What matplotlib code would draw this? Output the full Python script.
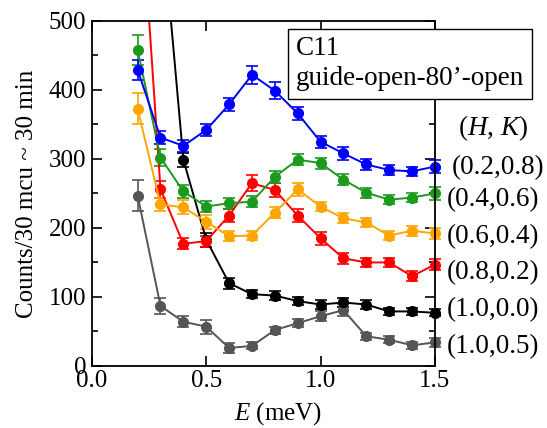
import matplotlib
matplotlib.use('Agg')
import matplotlib.pyplot as plt
from matplotlib.patches import Rectangle
from matplotlib.ticker import MultipleLocator

plt.rcParams['font.family'] = 'serif'
plt.rcParams['font.serif'] = ['Liberation Serif', 'DejaVu Serif']
plt.rcParams['mathtext.fontset'] = 'custom'
plt.rcParams['mathtext.it'] = 'Liberation Serif:italic'
plt.rcParams['mathtext.rm'] = 'Liberation Serif'

# ── Data ────────────────────────────────────────────────
energy = [0.2, 0.3, 0.4, 0.5, 0.6, 0.7, 0.8, 0.9, 1.0, 1.1, 1.2, 1.3, 1.4, 1.5]

hk_02_08 = [429, 331, 319, 342, 379, 422, 399, 366, 325, 308, 292, 284, 282, 289]
hk_02_08_err = [15, 9, 9, 9, 10, 13, 12, 10, 9, 9, 8, 7, 7, 9]

hk_04_06 = [458, 302, 253, 231, 236, 238, 274, 299, 294, 270, 251, 241, 244, 250]
hk_04_06_err = [22, 12, 9, 8, 8, 8, 9, 8, 8, 8, 7, 7, 7, 9]

hk_06_04 = [373, 234, 230, 209, 188, 189, 222, 256, 231, 214, 208, 189, 196, 192]
hk_06_04_err = [22, 10, 10, 10, 7, 7, 8, 9, 7, 7, 7, 7, 7, 8]

hk_08_02 = [750, 256, 177, 181, 218, 265, 255, 218, 185, 156, 150, 150, 130, 147]
hk_08_02_err = [20, 12, 8, 8, 10, 12, 10, 10, 9, 8, 7, 7, 7, 8]

hk_10_00 = [900, 670, 299, 183, 120, 104, 102, 94, 89, 92, 89, 79, 79, 77]
hk_10_00_err = [20, 15, 10, 10, 8, 6, 6, 6, 6, 6, 6, 5, 5, 5]

hk_10_05 = [247, 87, 64, 57, 26, 29, 52, 62, 72, 81, 43, 38, 30, 34]
hk_10_05_err = [22, 12, 8, 10, 7, 5, 5, 6, 7, 9, 5, 5, 5, 6]

series = [
    (hk_02_08, hk_02_08_err, '#0000ff', '(0.2,0.8)'),
    (hk_04_06, hk_04_06_err, '#1c9a1c', '(0.4,0.6)'),
    (hk_06_04, hk_06_04_err, '#ffa500', '(0.6,0.4)'),
    (hk_08_02, hk_08_02_err, '#ff0000', '(0.8,0.2)'),
    (hk_10_00, hk_10_00_err, '#000000', '(1.0,0.0)'),
    (hk_10_05, hk_10_05_err, '#555555', '(1.0,0.5)'),
]
label_y = [288, 241, 187, 135, 81, 28]
label_x = [1.574, 1.553, 1.553, 1.553, 1.553, 1.553]

# ── Plot ────────────────────────────────────────────────
fig = plt.figure(figsize=(5.47, 4.28), dpi=100)
ax = fig.add_axes([0.168, 0.145, 0.627, 0.806])

# let the last markers at E = 1.5 spill over the right spine
clip = Rectangle((0, 0), 1.05, 1, transform=ax.transAxes, visible=False)
ax.add_patch(clip)

for vals, errs, color, label in series[::-1]:
    cont = ax.errorbar(energy, vals, yerr=errs, color=color, marker='o',
                       markersize=7, linewidth=1.4, elinewidth=1.2,
                       capsize=4.5, capthick=1.2)
    for art in [cont.lines[0]] + list(cont.lines[1]) + list(cont.lines[2]):
        art.set_clip_path(clip)

for (vals, errs, color, label), lx, ly in zip(series, label_x, label_y):
    ax.text(lx, ly, label, fontsize=19.5, va='center', ha='left',
            clip_on=False)
ax.text(1.60, 345, r'$(H,\,K)$', fontsize=19.5, va='center', ha='left')

ax.text(0.595, 0.955, 'C11\nguide-open-80\u2019-open', transform=ax.transAxes,
        fontsize=19.5, va='top', ha='left', linespacing=1.25,
        bbox=dict(boxstyle='square,pad=0.28', facecolor='white',
                  edgecolor='black', linewidth=1.0))

ax.set_xlim(0, 1.5)
ax.set_ylim(0, 500)
ax.xaxis.set_major_locator(MultipleLocator(0.5))
ax.yaxis.set_major_locator(MultipleLocator(100))
ax.yaxis.set_minor_locator(MultipleLocator(50))
ax.xaxis.set_major_formatter(plt.FormatStrFormatter('%.1f'))
ax.tick_params(which='both', direction='in', top=True, right=True,
               labelsize=18, width=1.2)
ax.tick_params(which='major', length=7)
ax.tick_params(which='minor', length=4)
ax.tick_params(axis='x', pad=3)
ax.tick_params(axis='y', pad=4)
for sp in ax.spines.values():
    sp.set_linewidth(1.3)

ax.set_xlabel(r'$E$ (meV)', fontsize=18)
ax.xaxis.set_label_coords(0.542, -0.10)
ax.set_ylabel('Counts/30 mcu ~ 30 min', fontsize=18, labelpad=8)

plt.savefig('out.png', dpi=100)
plt.close()
